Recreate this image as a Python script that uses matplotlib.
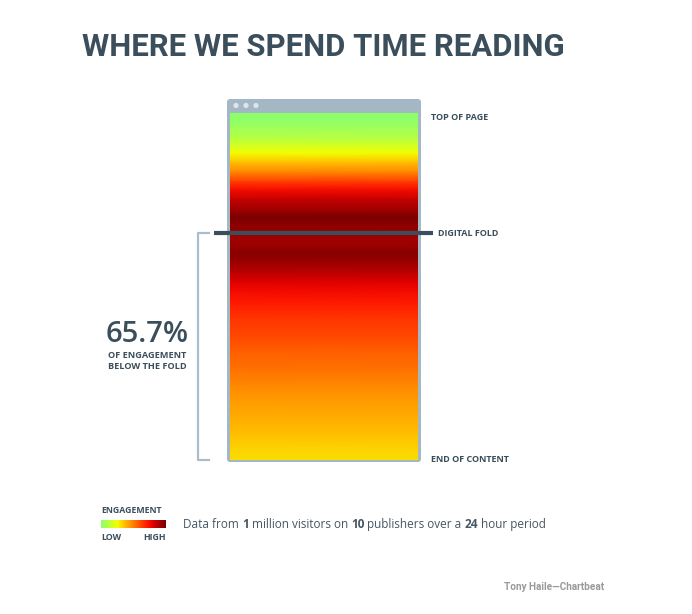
import numpy as np
import matplotlib
matplotlib.use('Agg')
from matplotlib import pyplot as plt
from matplotlib.colors import LinearSegmentedColormap
from matplotlib.patches import FancyBboxPatch, Circle
import matplotlib.cm as cm

# engagement by scroll depth (% of page, 0 = top, 100 = end of content)
depth_pct = [0, 2.9, 7.8, 11.5, 14.4, 17.0, 19.9, 22.2, 25.1, 28.0, 30.0, 32.3,
             34.6, 38.0, 40.3, 42.9, 45.8, 48.7, 51.6, 55.3, 59.1, 64.0, 68.9,
             74.1, 78.4, 82.7, 87.9, 92.8, 97.7, 100]
engagement = [0.0, 0.02, 0.13, 0.25, 0.37, 0.48, 0.64, 0.75, 0.85, 0.92, 1.0, 0.96,
              0.93, 0.92, 0.97, 0.93, 0.86, 0.80, 0.75, 0.70, 0.65, 0.61, 0.56,
              0.52, 0.48, 0.44, 0.40, 0.36, 0.32, 0.31]
fold_depth = 34.6
share_below_fold = '65.7%'

title = 'WHERE WE SPEND TIME READING'
source_note = [('Data from ', 'normal'), ('1', 'bold'), (' million visitors on ', 'normal'),
               ('10', 'bold'), (' publishers over a ', 'normal'), ('24', 'bold'),
               (' hour period', 'normal')]
credit = 'Tony Haile\u2014Chartbeat'

W, H = 692, 614
INK = '#3b4e5b'
FRAME = '#a3b7c5'

cmap = LinearSegmentedColormap.from_list('engagement', [
    (0.00, '#8cff6c'), (0.12, '#b8ff40'), (0.25, '#f2ff00'), (0.35, '#ffc400'),
    (0.45, '#ff9500'), (0.55, '#ff6400'), (0.65, '#ff3400'), (0.73, '#ff1000'),
    (0.80, '#e00000'), (0.87, '#b40000'), (0.93, '#9c0000'), (1.00, '#7a0000')])


def px_box(x0, y0, x1, y1):
    return [x0 / W, 1 - y1 / H, (x1 - x0) / W, (y1 - y0) / H]


plt.rcParams['font.family'] = ['Open Sans', 'DejaVu Sans']

fig = plt.figure(figsize=(W / 100, H / 100), dpi=100)
fig.patch.set_facecolor('white')

bg = fig.add_axes([0, 0, 1, 1])
bg.set_xlim(0, W)
bg.set_ylim(H, 0)
bg.axis('off')

title_txt = bg.text(82, 56, title, fontsize=28, fontweight='bold', color=INK,
                    va='baseline', ha='left',
                    family=['Liberation Sans Narrow', 'Roboto', 'DejaVu Sans'])

# browser window
bg.add_patch(FancyBboxPatch((227, 99), 194, 363, boxstyle='round,pad=0,rounding_size=3',
                            facecolor=FRAME, edgecolor='none'))
for cx in (236, 246, 256):
    bg.add_patch(Circle((cx, 105.5), 2.6, facecolor='#dde5eb', edgecolor='none'))

# the page itself, coloured by engagement
page = fig.add_axes(px_box(230, 113, 418, 460))
d = np.array(depth_pct, dtype=float)
e = np.array(engagement, dtype=float)
X = np.tile([0.0, 1.0], (len(d), 1))
Y = np.column_stack([d, d])
C = np.column_stack([e, e])
page.pcolormesh(X, Y, C, shading='gouraud', cmap=cmap, vmin=0, vmax=1)
page.set_xlim(0, 1)
page.set_ylim(100, 0)
page.axis('off')

tr = page.get_yaxis_transform()
page.plot([-0.085, 1.08], [fold_depth, fold_depth], transform=tr, color=INK, lw=3,
          solid_capstyle='butt', clip_on=False, zorder=5)
page.plot([-0.112, -0.170, -0.170, -0.112], [fold_depth, fold_depth, 100, 100],
          transform=tr, color='#a9bdca', lw=1.6, clip_on=False, zorder=5)

label_kw = dict(fontsize=6.5, fontweight='bold', color=INK, va='center', ha='left')
page.text(1.07, 1.2, 'TOP OF PAGE', transform=tr, **label_kw)
page.text(1.106, fold_depth, 'DIGITAL FOLD', transform=tr, **label_kw)
page.text(1.07, 100, 'END OF CONTENT', transform=tr, **label_kw)

bg.text(147, 342, share_below_fold, fontsize=21, fontweight='semibold', color=INK,
        ha='center', va='baseline')
bg.text(147, 358, 'OF ENGAGEMENT', fontsize=6.6, fontweight='bold', color=INK,
        ha='center', va='baseline')
bg.text(147, 369, 'BELOW THE FOLD', fontsize=6.6, fontweight='bold', color=INK,
        ha='center', va='baseline')

# legend
bg.text(101, 513, 'ENGAGEMENT', fontsize=6.3, fontweight='bold', color=INK, va='baseline')
cax = fig.add_axes(px_box(101, 520, 166, 528))
cb = fig.colorbar(cm.ScalarMappable(cmap=cmap), cax=cax, orientation='horizontal')
cb.set_ticks([])
cb.outline.set_visible(False)
bg.text(101, 540, 'LOW', fontsize=6.3, fontweight='bold', color=INK, va='baseline')
bg.text(166, 540, 'HIGH', fontsize=6.3, fontweight='bold', color=INK, va='baseline', ha='right')

prev = bg.text(183, 528, source_note[0][0], fontsize=8.5, fontweight=source_note[0][1],
               color='#475763', va='baseline')
for chunk, weight in source_note[1:]:
    prev = bg.annotate(chunk, xy=(1, 0), xycoords=prev, fontsize=8.5, fontweight=weight,
                       color='#475763', va='bottom', ha='left')

bg.text(604, 590, credit, fontsize=7.2, fontweight='bold', color='#9a9a9a', ha='right',
        va='baseline', family=['Liberation Sans Narrow', 'Roboto', 'DejaVu Sans'])

# squeeze the headline to span the same width as the layout
fig.canvas.draw()
tw = title_txt.get_window_extent().width
title_txt.set_fontsize(28 * 483 / tw)

fig.savefig('out.png', dpi=100, facecolor='white')
